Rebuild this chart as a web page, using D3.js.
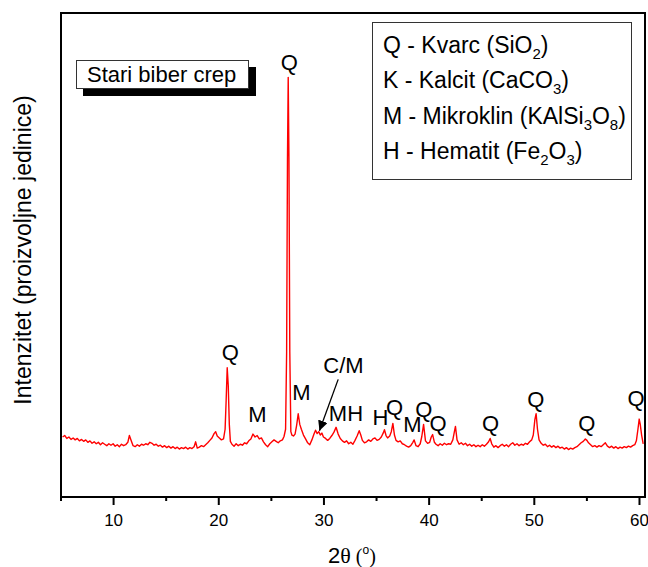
<!DOCTYPE html>
<html><head><meta charset="utf-8">
<script src="https://cdn.jsdelivr.net/npm/d3@7"></script>
<style>body{margin:0;background:#fff}svg{display:block}</style>
</head><body>
<script>
// ---- data (2θ in degrees, intensity in arbitrary units) ----
const twoTheta = [5.2,5.4,5.6,5.8,6.0,6.2,6.4,6.6,6.8,7.0,7.2,7.4,7.6,7.8,8.0,8.2,8.4,8.6,8.8,9.0,9.2,9.4,9.6,9.8,10.0,10.2,10.4,10.6,10.8,11.0,11.2,11.4,11.55,11.7,11.9,12.1,12.3,12.5,12.7,12.9,13.1,13.3,13.5,13.7,13.9,14.1,14.3,14.5,14.7,14.9,15.1,15.3,15.5,15.7,15.9,16.1,16.3,16.5,16.7,16.9,17.1,17.3,17.5,17.7,17.85,18.0,18.2,18.4,18.6,18.8,19.0,19.2,19.4,19.6,19.75,19.9,20.1,20.3,20.5,20.65,20.75,20.85,20.95,21.05,21.15,21.3,21.5,21.7,21.9,22.1,22.3,22.5,22.7,22.9,23.1,23.3,23.5,23.7,23.9,24.1,24.3,24.5,24.7,24.9,25.1,25.3,25.5,25.7,25.9,26.1,26.25,26.4,26.5,26.58,26.65,26.72,26.8,26.9,27.0,27.15,27.3,27.45,27.6,27.75,27.9,28.1,28.3,28.5,28.7,28.9,29.1,29.25,29.4,29.55,29.7,29.85,30.0,30.2,30.4,30.6,30.8,31.0,31.2,31.4,31.6,31.8,32.0,32.2,32.4,32.6,32.8,33.0,33.2,33.4,33.55,33.7,33.9,34.1,34.3,34.5,34.7,34.9,35.1,35.3,35.5,35.7,35.8,35.95,36.1,36.3,36.45,36.6,36.75,36.9,37.1,37.3,37.5,37.7,37.9,38.1,38.3,38.5,38.62,38.8,39.0,39.2,39.35,39.52,39.7,39.9,40.1,40.25,40.38,40.55,40.7,40.9,41.1,41.3,41.5,41.7,41.9,42.1,42.3,42.45,42.55,42.7,42.9,43.1,43.3,43.5,43.7,43.9,44.1,44.3,44.5,44.7,44.9,45.1,45.3,45.5,45.7,45.85,46.0,46.2,46.4,46.6,46.8,47.0,47.2,47.4,47.6,47.8,48.0,48.2,48.4,48.6,48.8,49.0,49.2,49.4,49.6,49.8,49.95,50.1,50.22,50.35,50.5,50.7,50.9,51.1,51.3,51.5,51.7,51.9,52.1,52.3,52.5,52.7,52.9,53.1,53.3,53.5,53.7,53.9,54.1,54.3,54.5,54.7,54.9,55.05,55.2,55.4,55.6,55.8,56.0,56.2,56.4,56.6,56.8,57.0,57.2,57.4,57.6,57.8,58.0,58.2,58.4,58.6,58.8,59.0,59.2,59.4,59.6,59.75,59.9,60.02,60.12,60.25,60.4];
const intensity = [124,127,121,124,119,122,118,121,116,119,115,118,113,116,111,114,110,113,108,112,109,106,110,107,110,105,108,104,109,106,108,113,127,118,106,104,108,105,109,107,110,108,113,111,107,109,105,107,103,106,102,105,101,104,100,103,99,102,100,103,99,102,100,104,114,101,103,106,104,108,112,117,122,131,135,126,122,118,120,140,200,267,230,150,115,109,105,110,106,109,107,112,110,116,120,130,124,127,120,122,114,108,104,110,114,118,115,112,116,118,125,140,300,700,867,700,300,135,128,126,130,148,172,150,140,128,120,112,108,118,130,138,131,135,128,132,124,121,117,121,127,134,144,130,121,116,113,116,110,113,109,117,126,137,128,117,112,114,118,115,120,122,117,119,124,133,139,127,122,126,135,152,128,117,114,116,110,108,105,103,106,113,118,106,104,110,125,150,116,111,113,124,129,113,109,106,110,107,111,108,110,109,118,135,146,118,109,112,108,111,106,109,105,108,104,107,104,108,105,109,114,121,110,103,106,102,106,109,105,108,104,109,112,107,110,106,109,107,111,109,114,118,128,160,172,140,118,111,107,109,104,107,103,106,102,105,101,103,99,102,98,101,99,102,104,108,112,115,120,117,112,108,104,106,103,106,104,108,112,105,102,105,101,104,100,103,101,104,102,105,103,106,108,116,140,161,150,128,110];

const majorTicks = [10,20,30,40,50,60];
const minorTicks = [5,15,25,35,45,55];

// peak labels: [text, 2θ, intensity level of label baseline]
const peakLabels = [
  ["Q",26.76,882],["Q",21.14,283],["M",23.71,155],["M",27.90,200],["C/M",31.90,256],
  ["MH",32.14,157],["H",35.43,149],["Q",36.76,169],["M",38.45,134],["Q",39.55,165],
  ["Q",40.90,136],["Q",45.90,136],["Q",50.19,186],["Q",55.05,136],["Q",59.71,188]
];
// arrow for C/M: from [2θ, I] to [2θ, I]
const arrowFrom = [31.40,243], arrowTo = [29.62,137];

const legendLines = [
  [["Q - Kvarc (SiO",0],["2",1],[")",0]],
  [["K - Kalcit (CaCO",0],["3",1],[")",0]],
  [["M - Mikroklin (KAlSi",0],["3",1],["O",0],["8",1],[")",0]],
  [["H - Hematit (Fe",0],["2",1],["O",0],["3",1],[")",0]]
];
const sampleName = "Stari biber crep";

// ---- drawing ----
const W = 648, H = 567;
const L = 61, R = 645, T = 13, B = 497;
const FONT = "'Liberation Sans', Arial, sans-serif";
const svg = d3.select("body").append("svg").attr("width", W).attr("height", H)
  .style("font-family", FONT);

const x = d3.scaleLinear().domain([5, 60.6]).range([60.5, 645.3]);
const y = d3.scaleLinear().domain([0, 1000]).range([B, T]);

const defs = svg.append("defs");
defs.append("marker").attr("id","ah").attr("viewBox","0 0 10 10")
  .attr("refX",10).attr("refY",5).attr("markerWidth",10).attr("markerHeight",10)
  .attr("markerUnits","userSpaceOnUse").attr("orient","auto")
  .append("path").attr("d","M0,0 L10,5 L0,10 Z").attr("fill","#000");

// data line
const pts = twoTheta.map((t,i)=>[t,intensity[i]]);
svg.append("path").datum(pts)
  .attr("d", d3.line().x(d=>x(d[0])).y(d=>y(d[1])))
  .attr("fill","none").attr("stroke","#ff0000").attr("stroke-width",1.4)
  .attr("stroke-linejoin","round");

// x axis (major + minor)
const gx = svg.append("g").attr("transform",`translate(0,${B})`)
  .call(d3.axisBottom(x).tickValues(majorTicks).tickSize(8).tickPadding(9).tickFormat(d3.format("d")));
gx.select(".domain").remove();
gx.selectAll("line").attr("stroke-width",2);
gx.selectAll("text").attr("font-size",17).attr("font-family",FONT).attr("fill","#000");
const gm = svg.append("g").attr("transform",`translate(0,${B})`)
  .call(d3.axisBottom(x).tickValues(minorTicks).tickSize(4).tickFormat(""));
gm.select(".domain").remove();
gm.selectAll("line").attr("stroke-width",2);

// frame
svg.append("rect").attr("x",L).attr("y",T).attr("width",R-L).attr("height",B-T)
  .attr("fill","none").attr("stroke","#000").attr("stroke-width",2);

// axis titles
svg.append("text").attr("transform","translate(31,250) rotate(-90)")
  .attr("text-anchor","middle").attr("font-size",23).text("Intenzitet (proizvoljne jedinice)");
const xt = svg.append("text").attr("x",328).attr("y",563).attr("font-size",22);
xt.append("tspan").text("2");
xt.append("tspan").attr("font-family","'Liberation Serif','Times New Roman',serif").text("θ");
xt.append("tspan").attr("font-family","'Liberation Serif','Times New Roman',serif").attr("font-size",20).text(" (");
xt.append("tspan").attr("font-size",12).attr("dy",-9).text("o");
xt.append("tspan").attr("font-family","'Liberation Serif','Times New Roman',serif").attr("font-size",20).attr("dy",9).text(")");

// peak labels
svg.append("g").selectAll("text").data(peakLabels).join("text")
  .attr("x",d=>x(d[1])).attr("y",d=>y(d[2])).attr("text-anchor","middle")
  .attr("font-size",22).attr("fill","#000").text(d=>d[0]);

// arrow
svg.append("line").attr("x1",x(arrowFrom[0])).attr("y1",y(arrowFrom[1]))
  .attr("x2",x(arrowTo[0])).attr("y2",y(arrowTo[1]))
  .attr("stroke","#000").attr("stroke-width",1.3).attr("marker-end","url(#ah)");

// sample name box with shadow
svg.append("rect").attr("x",83).attr("y",67).attr("width",173).attr("height",29).attr("fill","#000");
svg.append("rect").attr("x",76.5).attr("y",60.5).attr("width",172).attr("height",28)
  .attr("fill","#fff").attr("stroke","#333").attr("stroke-width",1);
svg.append("text").attr("x",87).attr("y",82).attr("font-size",22).text(sampleName);

// legend box
svg.append("rect").attr("x",372.5).attr("y",22.5).attr("width",259).attr("height",157)
  .attr("fill","#fff").attr("stroke","#333").attr("stroke-width",1);
legendLines.forEach((parts,i)=>{
  const t = svg.append("text").attr("x",383).attr("y",53+i*35.3).attr("font-size",23);
  let prev = 0;
  parts.forEach(([s,sub])=>{
    const ts = t.append("tspan").text(s);
    const dy = (sub?6:0) - (prev?6:0);
    if (dy) ts.attr("dy",dy);
    if (sub) ts.attr("font-size",15);
    prev = sub;
  });
});
</script>
</body></html>
